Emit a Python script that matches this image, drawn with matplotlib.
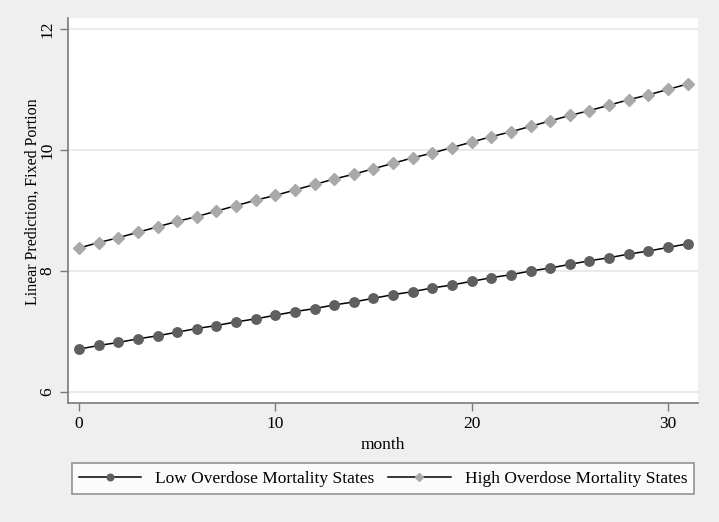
import numpy as np
import matplotlib.pyplot as plt

# predicted values
month = list(range(32))
low_pred = [6.71, 6.77, 6.82, 6.88, 6.93, 6.99, 7.05, 7.10, 7.16, 7.21,
            7.27, 7.33, 7.38, 7.44, 7.49, 7.55, 7.61, 7.66, 7.72, 7.77,
            7.83, 7.89, 7.94, 8.00, 8.05, 8.11, 8.17, 8.22, 8.28, 8.33,
            8.39, 8.45]
high_pred = [8.38, 8.47, 8.55, 8.64, 8.73, 8.82, 8.90, 8.99, 9.08, 9.17,
             9.25, 9.34, 9.43, 9.52, 9.60, 9.69, 9.78, 9.87, 9.95, 10.04,
             10.13, 10.22, 10.30, 10.39, 10.48, 10.57, 10.65, 10.74, 10.83, 10.91,
             11.00, 11.09]
xticks = [0, 10, 20, 30]
yticks = [6, 8, 10, 12]
labels = ['Low Overdose Mortality States', 'High Overdose Mortality States']

serif = 'Liberation Serif'

fig = plt.figure(figsize=(7.19, 5.22), dpi=100)
fig.patch.set_facecolor('#efefef')
ax = fig.add_axes([68/719, 1 - 403/522, 630/719, 385/522])
ax.set_facecolor('white')

ax.plot(month, low_pred, color='black', linewidth=1.1, marker='o',
        markersize=6.8, markerfacecolor='#5f5f5f', markeredgecolor='#5f5f5f',
        label=labels[0], zorder=3)
ax.plot(month, high_pred, color='black', linewidth=1.1, marker='D',
        markersize=6.5, markerfacecolor='#a9a9a9', markeredgecolor='#a9a9a9',
        label=labels[1], zorder=3)

ax.set_xlim(-0.56, 31.53)
ax.set_ylim(5.82, 12.18)
ax.set_xticks(xticks)
ax.set_yticks(yticks)
ax.set_xticklabels([str(t) for t in xticks], fontfamily=serif, fontsize=12.5)
ax.set_yticklabels([str(t) for t in yticks], fontfamily=serif, fontsize=12.5,
                   rotation=90, va='center')

ax.grid(axis='y', color='#e6e6e6', linewidth=1.2)
ax.set_axisbelow(True)
for side in ['top', 'right']:
    ax.spines[side].set_visible(False)
for side in ['left', 'bottom']:
    ax.spines[side].set_color('#7a7a7a')
    ax.spines[side].set_linewidth(1.2)
ax.tick_params(axis='both', color='#7a7a7a', length=6, width=1, pad=3)

ax.set_xlabel('month', fontfamily=serif, fontsize=12.5, labelpad=4)
ax.set_ylabel('Linear Prediction, Fixed Portion', fontfamily=serif, fontsize=11.5)
ax.yaxis.set_label_coords(-0.044, 0.522)

leg = fig.legend(loc='center', ncol=2, mode='expand', borderaxespad=0,
                 bbox_to_anchor=(72/719, 1 - 497/522, 622/719, 37/522),
                 prop={'family': serif, 'size': 12.5}, numpoints=1,
                 handlelength=3.6, markerscale=0.7, fancybox=False, frameon=True)
leg.get_frame().set_edgecolor('#7a7a7a')
leg.get_frame().set_linewidth(1.2)

plt.savefig('out.png', dpi=100, facecolor=fig.get_facecolor())
